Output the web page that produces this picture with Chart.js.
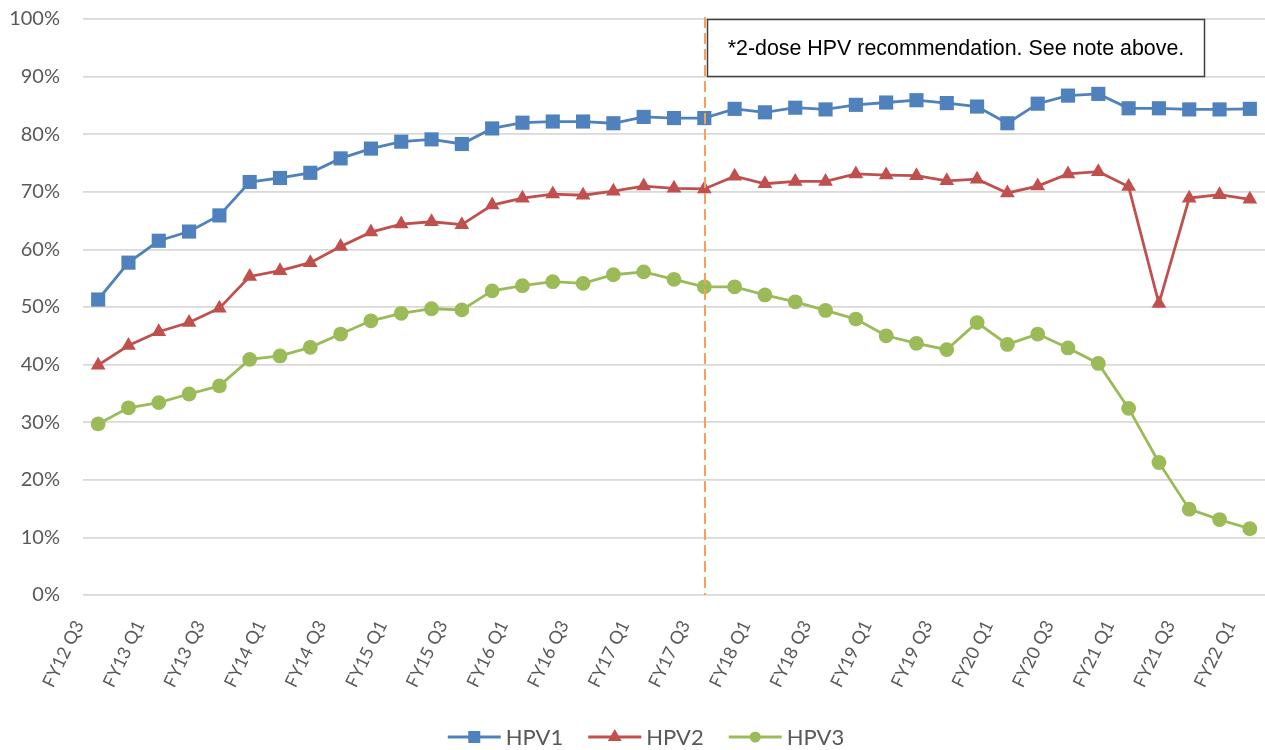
<!DOCTYPE html>
<html><head><meta charset="utf-8">
<script src="https://cdn.jsdelivr.net/npm/chart.js@4/dist/chart.umd.min.js"></script>
<style>html,body{margin:0;padding:0;background:#fff;} canvas{display:block;}</style>
</head><body>
<canvas id="c" width="1265" height="750"></canvas>
<script>
const categories = ['FY12 Q3','FY12 Q4',
  'FY13 Q1','FY13 Q2','FY13 Q3','FY13 Q4',
  'FY14 Q1','FY14 Q2','FY14 Q3','FY14 Q4',
  'FY15 Q1','FY15 Q2','FY15 Q3','FY15 Q4',
  'FY16 Q1','FY16 Q2','FY16 Q3','FY16 Q4',
  'FY17 Q1','FY17 Q2','FY17 Q3','FY17 Q4',
  'FY18 Q1','FY18 Q2','FY18 Q3','FY18 Q4',
  'FY19 Q1','FY19 Q2','FY19 Q3','FY19 Q4',
  'FY20 Q1','FY20 Q2','FY20 Q3','FY20 Q4',
  'FY21 Q1','FY21 Q2','FY21 Q3','FY21 Q4',
  'FY22 Q1'];
const hpv1 = [51.3,57.7,61.5,63.1,65.9,71.7,72.4,73.3,75.8,77.5,78.7,79.1,78.3,81.0,82.0,82.2,82.2,81.9,83.0,82.8,82.8,84.4,83.8,84.6,84.3,85.1,85.5,85.9,85.4,84.8,81.9,85.3,86.7,87.0,84.5,84.5,84.3,84.3,84.4];
const hpv2 = [39.9,43.3,45.7,47.3,49.8,55.3,56.3,57.7,60.5,63.0,64.4,64.8,64.3,67.7,68.9,69.6,69.4,70.1,71.0,70.6,70.5,72.7,71.4,71.8,71.8,73.1,72.9,72.8,71.9,72.2,69.8,71.0,73.1,73.5,70.9,50.6,68.9,69.5,68.7];
const hpv3 = [29.7,32.5,33.4,34.9,36.3,40.9,41.5,43.0,45.3,47.6,48.9,49.7,49.5,52.8,53.7,54.4,54.1,55.6,56.1,54.8,53.5,53.5,52.1,50.9,49.4,47.9,45.0,43.7,42.6,47.3,43.5,45.3,42.9,40.2,32.4,23.0,14.9,13.1,11.5];
const seriesNames = ['HPV1','HPV2','HPV3'];
const markerCategory = 'FY17 Q3';
const noteText = '*2-dose HPV recommendation. See note above.';

const colors = ['#4F81BD','#C0504D','#9BBB59'];
const styles = ['rect','triangle','circle'];
const radii = [10, 8.5, 7.4];
const textColor = '#595959';

function drawMarker(ctx, style, x, y, r, color){
  ctx.save();
  ctx.fillStyle = color;
  ctx.beginPath();
  if (style === 'rect') { const s = r*Math.SQRT1_2; ctx.rect(x-s, y-s, 2*s, 2*s); }
  else if (style === 'triangle') {
    ctx.moveTo(x, y - r);
    ctx.lineTo(x + r*Math.sin(Math.PI/3), y + r/2);
    ctx.lineTo(x - r*Math.sin(Math.PI/3), y + r/2);
    ctx.closePath();
  } else { ctx.arc(x, y, r, 0, Math.PI*2); }
  ctx.fill();
  ctx.restore();
}

function zeroPad(s){ s.paddingLeft = 0; s.paddingRight = 0; s.paddingTop = 0; s.paddingBottom = 0; }

const overlayPlugin = {
  id: 'overlay',
  afterDatasetsDraw(chart){
    const ctx = chart.ctx, xs = chart.scales.x, area = chart.chartArea;
    const lx = Math.round(xs.getPixelForValue(categories.indexOf(markerCategory))) + 1;
    ctx.save();
    ctx.strokeStyle = '#F5A15A';
    ctx.lineWidth = 2;
    ctx.setLineDash([11, 5]);
    ctx.beginPath();
    ctx.moveTo(lx, area.top - 2);
    ctx.lineTo(lx, area.bottom);
    ctx.stroke();
    ctx.setLineDash([]);
    const bx = lx + 2.5, by = area.top + 0.5, bw = 497, bh = 57;
    ctx.fillStyle = '#ffffff';
    ctx.fillRect(bx, by, bw, bh);
    ctx.strokeStyle = '#404040';
    ctx.lineWidth = 1.5;
    ctx.strokeRect(bx, by, bw, bh);
    ctx.fillStyle = '#000000';
    ctx.font = '21.4px "Liberation Sans", Arial, sans-serif';
    ctx.textAlign = 'center';
    ctx.textBaseline = 'middle';
    ctx.fillText(noteText, bx + bw/2, by + bh/2 + 1);
    ctx.restore();
  },
  afterDraw(chart){
    const ctx = chart.ctx;
    ctx.save();
    ctx.font = '22px Lato, sans-serif';
    const lineW = 53, gapT = 5, gapI = 25;
    const widths = chart.data.datasets.map(d => ctx.measureText(d.label).width);
    const total = widths.reduce((a,b)=>a+b,0) + chart.data.datasets.length*(lineW+gapT) + gapI*(chart.data.datasets.length-1);
    let x = 646 - total/2;
    const y = 737;
    const legR = [8.5, 8, 5.5];
    chart.data.datasets.forEach((d, i) => {
      ctx.strokeStyle = colors[i];
      ctx.lineWidth = 3;
      ctx.beginPath(); ctx.moveTo(x, y); ctx.lineTo(x + lineW, y); ctx.stroke();
      drawMarker(ctx, styles[i], x + lineW/2, y, legR[i], colors[i]);
      ctx.fillStyle = textColor;
      ctx.textAlign = 'left';
      ctx.textBaseline = 'middle';
      ctx.fillText(d.label, x + lineW + gapT, y + 1);
      x += lineW + gapT + widths[i] + gapI;
    });
    ctx.restore();
  }
};

const seriesData = [hpv1, hpv2, hpv3];
new Chart(document.getElementById('c'), {
  type: 'line',
  data: {
    labels: categories,
    datasets: seriesNames.map((n, i) => ({
      label: n,
      data: seriesData[i],
      borderColor: colors[i],
      backgroundColor: colors[i],
      borderWidth: 2.8,
      pointStyle: styles[i],
      pointRadius: radii[i],
      pointHoverRadius: radii[i],
      pointBorderWidth: 0,
      pointBackgroundColor: colors[i],
      tension: 0,
      fill: false,
      clip: false
    }))
  },
  options: {
    responsive: false,
    animation: false,
    events: [],
    layout: { autoPadding: false, padding: { top: 19, right: 0, bottom: 0, left: 0 } },
    plugins: { legend: { display: false }, tooltip: { enabled: false }, title: { display: false } },
    scales: {
      x: {
        type: 'category',
        offset: true,
        grid: { display: false, drawTicks: false },
        border: { display: false },
        ticks: {
          autoSkip: false,
          minRotation: 64, maxRotation: 64,
          padding: 22,
          labelOffset: -19,
          color: textColor,
          font: { family: 'Lato', size: 18 },
          callback: function(v, i){ return i % 2 === 0 ? this.getLabelForValue(v) : ''; }
        },
        afterFit(s){ s.height = 155; zeroPad(s); }
      },
      y: {
        min: 0, max: 100,
        grid: { color: '#d9d9d9', lineWidth: 1.8, drawTicks: false },
        border: { display: false },
        ticks: {
          stepSize: 10,
          padding: 23,
          color: textColor,
          font: { family: 'Lato', size: 20 },
          callback: v => v + '%'
        },
        afterFit(s){ s.width = 83; zeroPad(s); }
      }
    }
  },
  plugins: [overlayPlugin]
});
</script>
</body></html>
